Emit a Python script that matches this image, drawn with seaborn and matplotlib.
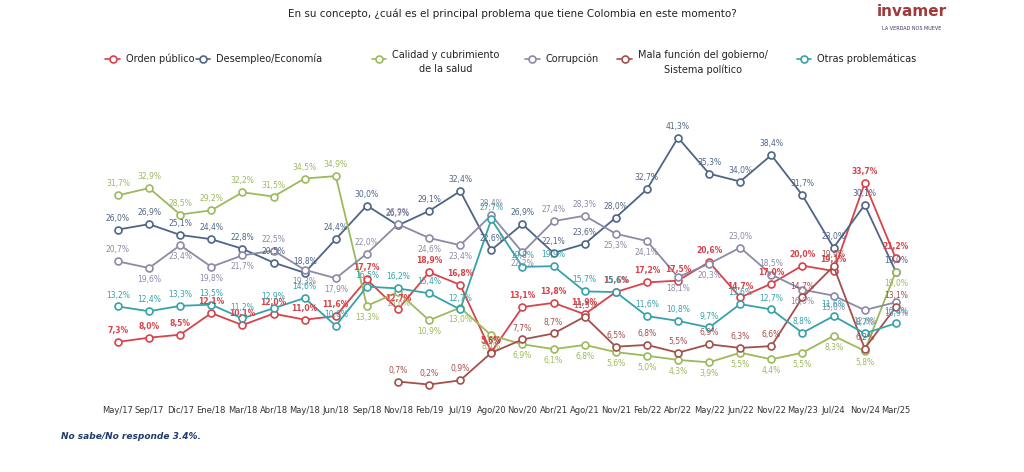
import matplotlib
matplotlib.use("Agg")
import matplotlib.pyplot as plt
import seaborn as sns
import pandas as pd

periods = ["May/17","Sep/17","Dic/17","Ene/18","Mar/18","Abr/18","May/18","Jun/18","Sep/18","Nov/18",
           "Feb/19","Jul/19","Ago/20","Nov/20","Abr/21","Ago/21","Nov/21","Feb/22","Abr/22","May/22",
           "Jun/22","Nov/22","May/23","Jul/24","Nov/24","Mar/25"]
orden = [7.3,8.0,8.5,12.1,10.1,12.0,11.0,11.6,17.7,12.7,18.9,16.8,5.6,13.1,13.8,11.9,15.6,17.2,17.5,20.6,14.7,17.0,20.0,19.1,33.7,21.2]
desempleo = [26.0,26.9,25.1,24.4,22.8,20.5,18.8,24.4,30.0,26.7,29.1,32.4,22.6,26.9,22.1,23.6,28.0,32.7,41.3,35.3,34.0,38.4,31.7,23.0,30.1,19.0]
salud = [31.7,32.9,28.5,29.2,32.2,31.5,34.5,34.9,13.3,15.6,10.9,13.0,8.4,6.9,6.1,6.8,5.6,5.0,4.3,3.9,5.5,4.4,5.5,8.3,5.8,19.0]
corrupcion = [20.7,19.6,23.4,19.8,21.7,22.5,19.3,17.9,22.0,26.9,24.6,23.4,28.4,22.2,27.4,28.3,25.3,24.1,18.1,20.3,23.0,18.5,16.0,15.0,12.6,13.9]
mala = [None]*9 + [0.7,0.2,0.9,5.5,7.7,8.7,11.5,6.5,6.8,5.5,6.9,6.3,6.6,14.7,19.9,6.2,13.1]
otras = [13.2,12.4,13.3,13.5,11.2,12.9,14.6,10.0,16.5,16.2,15.4,12.7,27.7,19.8,19.9,15.7,15.6,11.6,10.8,9.7,13.6,12.7,8.8,11.6,8.7,10.4]

series = [("Orden público", orden, "#d8434a"),
          ("Desempleo/Economía", desempleo, "#4e6587"),
          ("Calidad y cubrimiento\nde la salud", salud, "#9cba5c"),
          ("Corrupción", corrupcion, "#8d8aa6"),
          ("Mala función del gobierno/\nSistema político", mala, "#a34f4c"),
          ("Otras problemáticas", otras, "#36a2aa")]

def label_dir(name, i):
    if name.startswith("Calidad"):
        return 1 if i < 8 else -1
    if name == "Corrupción":
        return 1 if i in (0, 5, 8, 9, 12, 14, 15, 20, 21) else -1
    return 1

rows = []
for name, vals, c in series:
    for i, v in enumerate(vals):
        if v is not None:
            rows.append({"serie": name, "x": i, "v": v})
df = pd.DataFrame(rows)

sns.set_theme(style="white")
plt.rcParams['font.family'] = ['DejaVu Sans']
fig = plt.figure(figsize=(10.24, 4.72), dpi=100)
ax = fig.add_axes([0.1, 0.17, 0.79, 0.56])
pal = {s[0]: s[2] for s in series}
sns.lineplot(data=df, x="x", y="v", hue="serie", palette=pal, marker="o", markersize=5,
             markerfacecolor="white", markeredgewidth=1.2, linewidth=1.3, ax=ax, legend=False)
for line in ax.lines:
    line.set_markeredgecolor(line.get_color())
for name, vals, c in series:
    bold = name == "Orden público"
    for i, v in enumerate(vals):
        if v is None:
            continue
        d = label_dir(name, i)
        ax.annotate(f"{v:.1f}%".replace(".", ","), (i, v), xytext=(0, 5 * d), textcoords="offset points",
                    ha="center", va="bottom" if d > 0 else "top", fontsize=5.5, color=c,
                    fontweight="bold" if bold else "normal")
ax.set_xlim(-0.5, 25.5)
ax.set_ylim(-1, 43)
ax.set_xticks(range(len(periods)))
ax.set_xticklabels(periods, fontsize=6, color="#333333")
ax.set_yticks([])
ax.set_xlabel(""); ax.set_ylabel("")
for s in ax.spines.values():
    s.set_visible(False)
ax.tick_params(axis="x", length=0, pad=10)

fig.text(0.5, 0.97, "En su concepto, ¿cuál es el principal problema que tiene Colombia en este momento?",
         ha="center", va="center", fontsize=7.5, color="#222222")
xs = [0.11, 0.198, 0.37, 0.52, 0.61, 0.785]
for (name, _, c), x in zip(series, xs):
    fig.lines.append(plt.Line2D([x - 0.007, x + 0.007], [0.875, 0.875], color=c, lw=1.2,
                                transform=fig.transFigure))
    fig.lines.append(plt.Line2D([x], [0.875], color=c, marker="o", markersize=5, markerfacecolor="white",
                                markeredgecolor=c, markeredgewidth=1.2, transform=fig.transFigure))
    if "\n" in name:
        fig.text(x + 0.013, 0.895, name, ha="left", va="top", fontsize=7, color="#222222",
                 linespacing=1.5, multialignment="center")
    else:
        fig.text(x + 0.013, 0.875, name, ha="left", va="center", fontsize=7, color="#222222")
fig.text(0.89, 0.975, "invamer", ha="center", va="center", fontsize=11, color="#a13a3a", fontweight="bold")
fig.text(0.89, 0.94, "LA VERDAD NOS MUEVE", ha="center", va="center", fontsize=3.5, color="#333366")
fig.text(0.06, 0.075, "No sabe/No responde 3.4%.", ha="left", va="center", fontsize=6.5,
         color="#1f3a6e", fontweight="bold", style="italic")
fig.savefig("out.png", dpi=100, facecolor="white")
